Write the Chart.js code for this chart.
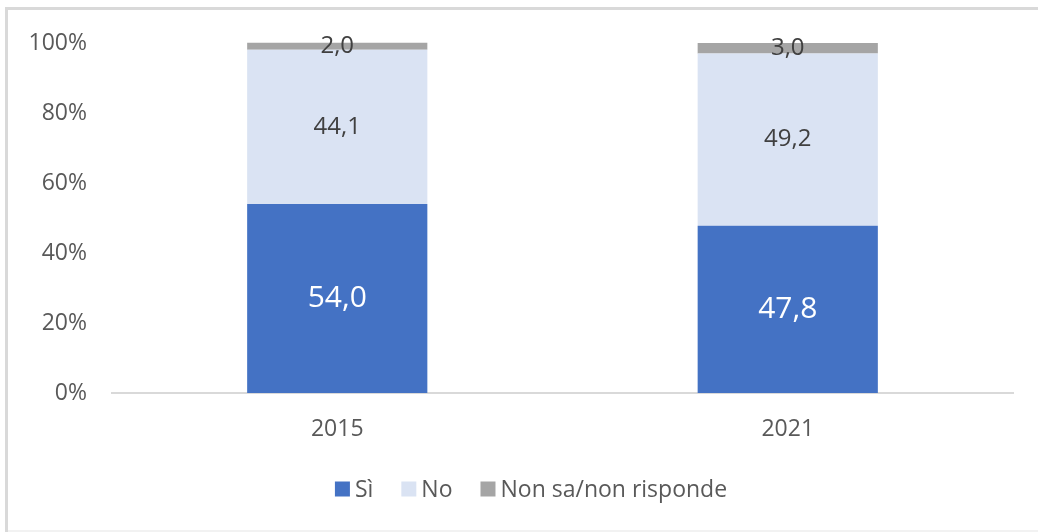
<!DOCTYPE html>
<html>
<head>
<meta charset="utf-8">
<script src="https://cdn.jsdelivr.net/npm/chart.js@4.4.1/dist/chart.umd.min.js"></script>
<style>
  html, body { margin: 0; padding: 0; background: #ffffff; }
  #wrap { position: relative; width: 1038px; height: 532px; }
</style>
</head>
<body>
<div id="wrap"><canvas id="c" width="1038" height="532"></canvas></div>
<script>
const categories = ['2015', '2021'];
const seriesNames = ['Sì', 'No', 'Non sa/non risponde'];
const siValues = [54.0, 47.8];
const noValues = [44.1, 49.2];
const nonSaValues = [2.0, 3.0];
const yTickValues = [0, 20, 40, 60, 80, 100];

const FONT = "'Open Sans', 'Noto Sans', sans-serif";
const colors = ['#4472C4', '#DAE3F3', '#A5A5A5'];
const labelStyles = [
  { color: '#FFFFFF', size: 30 },
  { color: '#404040', size: 24 },
  { color: '#404040', size: 24 }
];

const fmt = v => v.toFixed(1).replace('.', ',');

const framePlugin = {
  id: 'frame',
  beforeDraw(chart) {
    const ctx = chart.ctx;
    ctx.save();
    ctx.fillStyle = '#D9D9D9';
    ctx.fillRect(5, 7, 3, 525);
    ctx.fillRect(5, 7, 1033, 3);
    ctx.fillStyle = '#F2F2F2';
    ctx.fillRect(8, 530, 1030, 2);
    ctx.restore();
  }
};

const valueLabels = {
  id: 'valueLabels',
  afterDatasetsDraw(chart) {
    const ctx = chart.ctx;
    ctx.save();
    ctx.textAlign = 'center';
    ctx.textBaseline = 'middle';
    chart.data.datasets.forEach((ds, i) => {
      const meta = chart.getDatasetMeta(i);
      const st = labelStyles[i];
      ctx.fillStyle = st.color;
      ctx.font = st.size + 'px ' + FONT;
      meta.data.forEach((el, j) => {
        const y = (el.y + el.base) / 2;
        ctx.fillText(fmt(ds.data[j]), el.x, y);
      });
    });
    ctx.restore();
  }
};

const customLegend = {
  id: 'customLegend',
  afterDraw(chart) {
    const ctx = chart.ctx;
    ctx.save();
    ctx.font = '23px ' + FONT;
    ctx.textBaseline = 'middle';
    const box = 15, gapText = 5, gapItem = 28;
    const items = chart.data.datasets.map(d => ({ label: d.label, color: d.backgroundColor }));
    let total = 0;
    items.forEach((it, k) => {
      it.w = ctx.measureText(it.label).width;
      total += box + gapText + it.w + (k < items.length - 1 ? gapItem : 0);
    });
    let x = 531 - total / 2;
    const cy = 489;
    items.forEach(it => {
      ctx.fillStyle = it.color;
      ctx.fillRect(x, cy - box / 2, box, box);
      x += box + gapText;
      ctx.fillStyle = '#595959';
      ctx.textAlign = 'left';
      ctx.fillText(it.label, x, cy + 1);
      x += it.w + gapItem;
    });
    ctx.restore();
  }
};

const valueArrays = [siValues, noValues, nonSaValues];

new Chart(document.getElementById('c'), {
  type: 'bar',
  data: {
    labels: categories,
    datasets: seriesNames.map((name, i) => ({
      label: name,
      data: valueArrays[i],
      backgroundColor: colors[i],
      borderWidth: 0,
      categoryPercentage: 1.0,
      barPercentage: 0.4,
      clip: false
    }))
  },
  options: {
    responsive: false,
    animation: false,
    devicePixelRatio: 1,
    layout: { padding: { left: 10, right: 25, top: 43, bottom: 0 } },
    plugins: {
      legend: { display: false },
      tooltip: { enabled: false },
      title: { display: false }
    },
    scales: {
      x: {
        stacked: true,
        grid: { display: false, drawTicks: false },
        border: { display: true, color: '#D9D9D9', width: 2 },
        ticks: { color: '#595959', font: { family: FONT, size: 23 }, padding: 23 },
        afterFit(scale) { scale.height = 139; }
      },
      y: {
        stacked: true,
        min: 0,
        max: 100,
        afterBuildTicks(scale) { scale.ticks = yTickValues.map(v => ({ value: v })); },
        grid: { display: false, drawTicks: false },
        border: { display: false },
        ticks: {
          color: '#595959',
          font: { family: FONT, size: 23 },
          padding: 25,
          callback: v => v + '%'
        },
        afterFit(scale) { scale.width = 102; }
      }
    }
  },
  plugins: [framePlugin, valueLabels, customLegend]
});
</script>
</body>
</html>
